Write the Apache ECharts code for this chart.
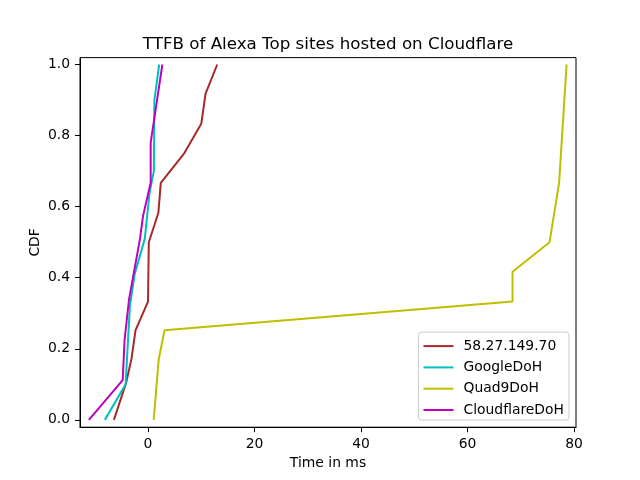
<!DOCTYPE html>
<html>
<head>
<meta charset="utf-8">
<script src="https://cdn.jsdelivr.net/npm/echarts@6/dist/echarts.min.js"></script>
<style>
html, body { margin: 0; padding: 0; background: #fff; }
#chart { width: 640px; height: 480px; }
</style>
</head>
<body>
<div id="chart"></div>
<script>
// series data: [time in ms, cdf]
var seriesNames = ['58.27.149.70', 'GoogleDoH', 'Quad9DoH', 'CloudflareDoH'];
var seriesColors = ['#a52a2a', '#00bfbf', '#bfbf00', '#bf00bf'];

var ipData = [[-6.4, 0], [-4.1, 0.105], [-3.1, 0.172], [-2.35, 0.252], [0, 0.333], [0.15, 0.5],
  [1.95, 0.583], [2.4, 0.667], [6.8, 0.75], [10.0, 0.833], [10.8, 0.917], [13.0, 1.0]];
var googleData = [[-8.1, 0], [-4.2, 0.1], [-3.75, 0.225], [-3.4, 0.32], [-2.5, 0.41], [-0.6, 0.51],
  [0.3, 0.64], [1.1, 0.7], [1.2, 0.9], [2.1, 1.0]];
var quad9Data = [[1.07, 0], [2.0, 0.169], [3.1, 0.252], [68.45, 0.333], [68.45, 0.417],
  [75.4, 0.5], [77.2, 0.667], [78.6, 1.0]];
var cloudflareData = [[-11.1, 0], [-4.75, 0.112], [-4.4, 0.225], [-3.57, 0.338], [-1.5, 0.51],
  [-0.94, 0.573], [0.5, 0.667], [0.5, 0.78], [1.6, 0.89], [2.7, 1.0]];

var xTicks = [0, 20, 40, 60, 80];
var yTicks = [0, 0.2, 0.4, 0.6, 0.8, 1.0];

var font = 'DejaVu Sans';
var allData = [ipData, googleData, quad9Data, cloudflareData];

var myChart = echarts.init(document.getElementById('chart'));
var series = [];
for (var i = 0; i < seriesNames.length; i++) {
  series.push({
    name: seriesNames[i],
    type: 'line',
    data: allData[i],
    showSymbol: false,
    symbol: 'none',
    color: seriesColors[i],
    lineStyle: { width: 2, color: seriesColors[i] }
  });
}

myChart.setOption({
  animation: false,
  backgroundColor: '#fff',
  title: {
    text: 'TTFB of Alexa Top sites hosted on Cloudflare',
    left: 323,
    top: 31,
    textAlign: 'center',
    textStyle: { fontFamily: font, fontSize: 16.7, fontWeight: 'normal', color: '#000' }
  },
  grid: {
    left: 80, right: 64, top: 57.6, bottom: 52.8,
    show: true, borderColor: '#000', borderWidth: 1
  },
  legend: {
    orient: 'vertical',
    right: 71,
    bottom: 60,
    padding: [7, 5, 3, 5],
    itemGap: 7.3,
    itemWidth: 30,
    itemHeight: 2,
    icon: 'rect',
    backgroundColor: 'rgba(255,255,255,0.8)',
    borderColor: '#cccccc',
    borderWidth: 1,
    borderRadius: 3,
    textStyle: { fontFamily: font, fontSize: 13.9, color: '#000', padding: [0, 0, 0, 5], lineHeight: 14 },
    data: seriesNames
  },
  xAxis: {
    type: 'value',
    min: -12.77,
    max: 80.37,
    name: 'Time in ms',
    nameLocation: 'middle',
    nameGap: 28,
    nameTextStyle: { fontFamily: font, fontSize: 13.9, color: '#000' },
    splitLine: { show: false },
    axisLine: { onZero: false, lineStyle: { color: '#000', width: 1 } },
    axisTick: { show: true, length: 5, lineStyle: { color: '#000' }, customValues: xTicks },
    axisLabel: { fontFamily: font, fontSize: 13.9, color: '#000', margin: 10, customValues: xTicks }
  },
  yAxis: {
    type: 'value',
    min: -0.0206,
    max: 1.0194,
    name: 'CDF',
    nameLocation: 'middle',
    nameGap: 38,
    nameMoveOverlap: false,
    nameTextStyle: { fontFamily: font, fontSize: 13.9, color: '#000' },
    splitLine: { show: false },
    axisLine: { show: true, onZero: false, lineStyle: { color: '#000', width: 1 } },
    axisTick: { show: true, length: 5, lineStyle: { color: '#000' }, customValues: yTicks },
    axisLabel: {
      fontFamily: font, fontSize: 13.9, color: '#000', margin: 10, customValues: yTicks,
      formatter: function (v) { return v.toFixed(1); }
    }
  },
  series: series
});
</script>
</body>
</html>
